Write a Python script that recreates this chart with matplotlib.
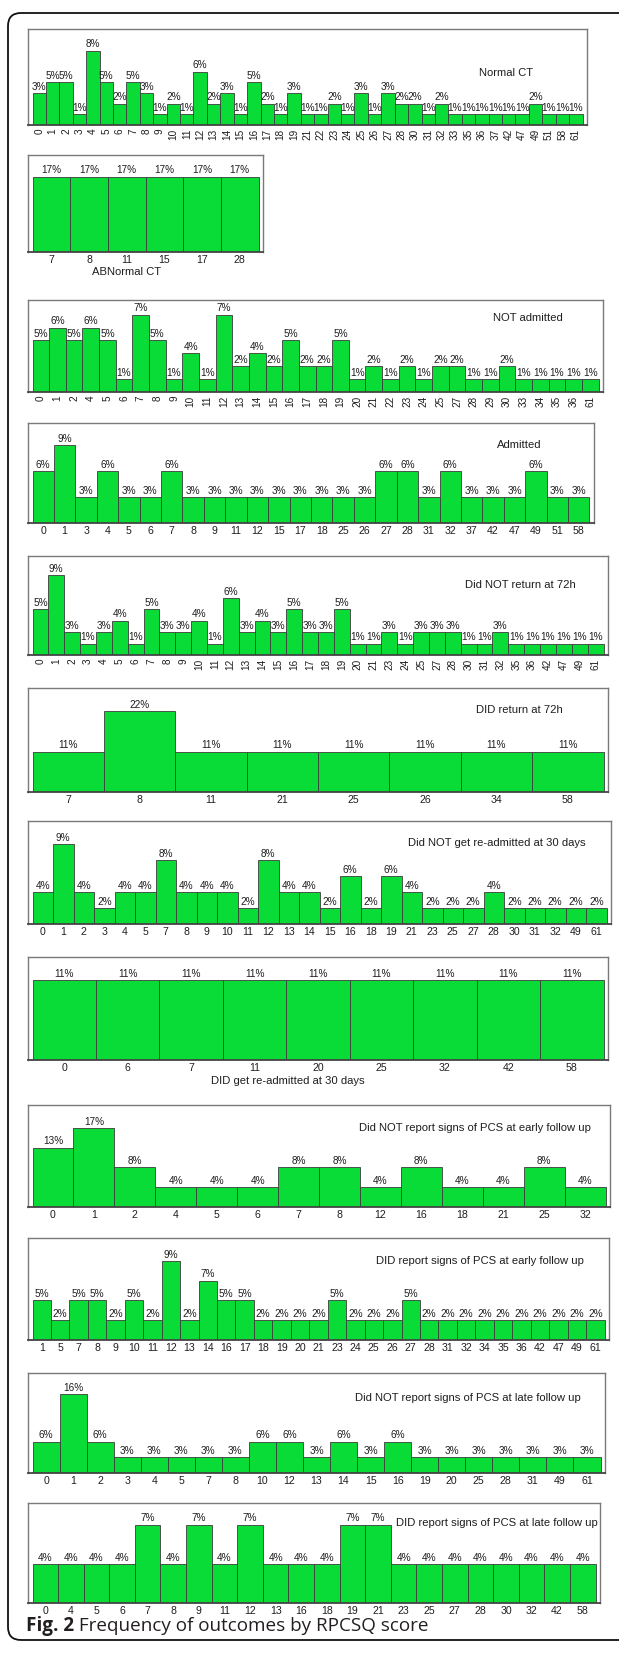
import math
import matplotlib
matplotlib.use("Agg")
import matplotlib.pyplot as plt
from matplotlib.patches import FancyBboxPatch

# RPCSQ score -> number of patients in each outcome group
normal_ct_scores = [0, 1, 2, 3, 4, 5, 6, 7, 8, 9, 10, 11, 12, 13, 14, 15, 16, 17, 18, 19, 21, 22,
                    23, 24, 25, 26, 27, 28, 30, 31, 32, 33, 35, 36, 37, 42, 47, 49, 51, 58, 61]
normal_ct_counts = [3, 4, 4, 1, 7, 4, 2, 4, 3, 1, 2, 1, 5, 2, 3, 1, 4, 2, 1, 3, 1, 1,
                    2, 1, 3, 1, 3, 2, 2, 1, 2, 1, 1, 1, 1, 1, 1, 2, 1, 1, 1]

abnormal_ct_scores = [7, 8, 11, 15, 17, 28]
abnormal_ct_counts = [1, 1, 1, 1, 1, 1]

not_admitted_scores = [0, 1, 2, 4, 5, 6, 7, 8, 9, 10, 11, 12, 13, 14, 15, 16, 17, 18, 19, 20,
                       21, 22, 23, 24, 25, 27, 28, 29, 30, 33, 34, 35, 36, 61]
not_admitted_counts = [4, 5, 4, 5, 4, 1, 6, 4, 1, 3, 1, 6, 2, 3, 2, 4, 2, 2, 4, 1,
                       2, 1, 2, 1, 2, 2, 1, 1, 2, 1, 1, 1, 1, 1]

admitted_scores = [0, 1, 3, 4, 5, 6, 7, 8, 9, 11, 12, 15, 17, 18, 25, 26, 27, 28, 31, 32,
                   37, 42, 47, 49, 51, 58]
admitted_counts = [2, 3, 1, 2, 1, 1, 2, 1, 1, 1, 1, 1, 1, 1, 1, 1, 2, 2, 1, 2,
                   1, 1, 1, 2, 1, 1]

no_return_scores = [0, 1, 2, 3, 4, 5, 6, 7, 8, 9, 10, 11, 12, 13, 14, 15, 16, 17, 18, 19,
                    20, 21, 23, 24, 25, 27, 28, 30, 31, 32, 35, 36, 42, 47, 49, 61]
no_return_counts = [4, 7, 2, 1, 2, 3, 1, 4, 2, 2, 3, 1, 5, 2, 3, 2, 4, 2, 2, 4,
                    1, 1, 2, 1, 2, 2, 2, 1, 1, 2, 1, 1, 1, 1, 1, 1]

return_scores = [7, 8, 11, 21, 25, 26, 34, 58]
return_counts = [1, 2, 1, 1, 1, 1, 1, 1]

no_readmit_scores = [0, 1, 2, 3, 4, 5, 7, 8, 9, 10, 11, 12, 13, 14, 15, 16, 18, 19, 21, 23,
                     25, 27, 28, 30, 31, 32, 49, 61]
no_readmit_counts = [2, 5, 2, 1, 2, 2, 4, 2, 2, 2, 1, 4, 2, 2, 1, 3, 1, 3, 2, 1,
                     1, 1, 2, 1, 1, 1, 1, 1]

readmit_scores = [0, 6, 7, 11, 20, 25, 32, 42, 58]
readmit_counts = [1, 1, 1, 1, 1, 1, 1, 1, 1]

no_pcs_early_scores = [0, 1, 2, 4, 5, 6, 7, 8, 12, 16, 18, 21, 25, 32]
no_pcs_early_counts = [3, 4, 2, 1, 1, 1, 2, 2, 1, 2, 1, 1, 2, 1]

pcs_early_scores = [1, 5, 7, 8, 9, 10, 11, 12, 13, 14, 16, 17, 18, 19, 20, 21, 23, 24, 25, 26,
                    27, 28, 31, 32, 34, 35, 36, 42, 47, 49, 61]
pcs_early_counts = [2, 1, 2, 2, 1, 2, 1, 4, 1, 3, 2, 2, 1, 1, 1, 1, 2, 1, 1, 1,
                    2, 1, 1, 1, 1, 1, 1, 1, 1, 1, 1]

no_pcs_late_scores = [0, 1, 2, 3, 4, 5, 7, 8, 10, 12, 13, 14, 15, 16, 19, 20, 25, 28, 31, 49, 61]
no_pcs_late_counts = [2, 5, 2, 1, 1, 1, 1, 1, 2, 2, 1, 2, 1, 2, 1, 1, 1, 1, 1, 1, 1]

pcs_late_scores = [0, 4, 5, 6, 7, 8, 9, 11, 12, 13, 16, 18, 19, 21, 23, 25, 27, 28, 30, 32, 42, 58]
pcs_late_counts = [1, 1, 1, 1, 2, 1, 2, 1, 2, 1, 1, 1, 2, 2, 1, 1, 1, 1, 1, 1, 1, 1]

# ---- page geometry (pixels) ----
W, H, DPI = 619, 1660, 100
GREEN = "#0ADC37"
BAR_EDGE = "#3c3c3c"
FRAME = "#7a7a7a"
TEXT = "#1e1e1e"
FONT = ["Liberation Sans", "DejaVu Sans"]

# (scores, counts, title, title centre, axis label, box l/t/r/b, rotated ticks, headroom)
panels = [
    (normal_ct_scores, normal_ct_counts, "Normal CT", (506, 73), None, (28, 29, 587, 125), True, 1.29),
    (abnormal_ct_scores, abnormal_ct_counts, None, None, ("ABNormal CT", 127, 272), (28, 155, 263, 252), False, 1.29),
    (not_admitted_scores, not_admitted_counts, "NOT admitted", (528, 318), None, (28, 300, 603, 392), True, 1.19),
    (admitted_scores, admitted_counts, "Admitted", (519, 445), None, (28, 423, 594, 523), False, 1.29),
    (no_return_scores, no_return_counts, "Did NOT return at 72h", (520, 585), None, (28, 556, 608, 655), True, 1.24),
    (return_scores, return_counts, "DID return at 72h", (519, 710), None, (28, 688, 608, 792), False, 1.29),
    (no_readmit_scores, no_readmit_counts, "Did NOT get re-admitted at 30 days", (497, 843), None, (28, 821, 611, 924), False, 1.29),
    (readmit_scores, readmit_counts, None, None, ("DID get re-admitted at 30 days", 288, 1081), (28, 957, 608, 1060), False, 1.29),
    (no_pcs_early_scores, no_pcs_early_counts, "Did NOT report signs of PCS at early follow up", (475, 1128), None, (28, 1105, 610, 1207), False, 1.29),
    (pcs_early_scores, pcs_early_counts, "DID report signs of PCS at early follow up", (480, 1261), None, (28, 1238, 609, 1340), False, 1.29),
    (no_pcs_late_scores, no_pcs_late_counts, "Did NOT report signs of PCS at late follow up", (468, 1398), None, (28, 1373, 605, 1473), False, 1.27),
    (pcs_late_scores, pcs_late_counts, "DID report signs of PCS at late follow up", (497, 1523), None, (28, 1503, 600, 1603), False, 1.28),
]

fig = plt.figure(figsize=(W / DPI, H / DPI), dpi=DPI)
fig.patch.set_facecolor("white")


def fx(px):
    return px / W


def fy(py):
    return 1 - py / H


def pct_label(p):
    return f"{math.floor(p + 0.5)}%"


for scores, counts, title, title_xy, xlabel, box, rotated, headroom in panels:
    left, top, right, bottom = box
    ax = fig.add_axes([fx(left), fy(bottom), fx(right - left), (bottom - top) / H])
    total = sum(counts)
    pct = [c / total * 100 for c in counts]
    n = len(pct)
    xs = list(range(n))
    ax.bar(xs, pct, width=1.0, color=GREEN, edgecolor=BAR_EDGE, linewidth=0.6)
    for x, p in zip(xs, pct):
        ax.annotate(pct_label(p), (x, p), xytext=(0, 1.0), textcoords="offset points",
                    ha="center", va="bottom", fontsize=7.2, color=TEXT, family=FONT)
    # a few pixels of padding between the outer bars and the frame
    pad_px = 4.5
    m = n * pad_px / (right - left - 2 * pad_px)
    ax.set_xlim(-0.5 - m, n - 0.5 + m)
    ax.set_ylim(0, max(pct) * headroom)
    ax.set_yticks([])
    ax.set_xticks(xs)
    ax.set_xticklabels([str(s) for s in scores], rotation=90 if rotated else 0,
                       fontsize=7.2 if rotated else 7.6, color=TEXT, family=FONT,
                       va="top", ha="center")
    ax.tick_params(axis="x", length=0, pad=2.5)
    for side in ("top", "left", "right"):
        ax.spines[side].set_color(FRAME)
        ax.spines[side].set_linewidth(1.0)
    ax.spines["bottom"].set_color("#444444")
    ax.spines["bottom"].set_linewidth(1.3)
    if title:
        fig.text(fx(title_xy[0]), fy(title_xy[1]), title, ha="center", va="center",
                 fontsize=8.1, color=TEXT, family=FONT)
    if xlabel:
        fig.text(fx(xlabel[1]), fy(xlabel[2]), xlabel[0], ha="center", va="center",
                 fontsize=8.1, color=TEXT, family=FONT)

# rounded page border (open on the right, where the page continues)
border = FancyBboxPatch((8 / DPI, (H - 1640) / DPI), 640 / DPI, (1640 - 13) / DPI,
                        boxstyle="round,pad=0,rounding_size=0.13",
                        transform=fig.dpi_scale_trans, fill=False,
                        edgecolor="#111111", linewidth=1.3)
fig.add_artist(border)

# figure caption
CAP_FONT = ["Open Sans", "DejaVu Sans"]
cap = fig.text(fx(26), fy(1626), "Fig. 2", ha="left", va="center", fontsize=13.6,
               fontweight="bold", color="#231f20", family=CAP_FONT)
fig.canvas.draw()
renderer = fig.canvas.get_renderer()
bb = cap.get_window_extent(renderer)
fig.text(bb.x1 / W, fy(1626), " Frequency of outcomes by RPCSQ score", ha="left", va="center",
         fontsize=13.6, color="#231f20", family=CAP_FONT)

fig.savefig("out.png", dpi=DPI, facecolor="white")
